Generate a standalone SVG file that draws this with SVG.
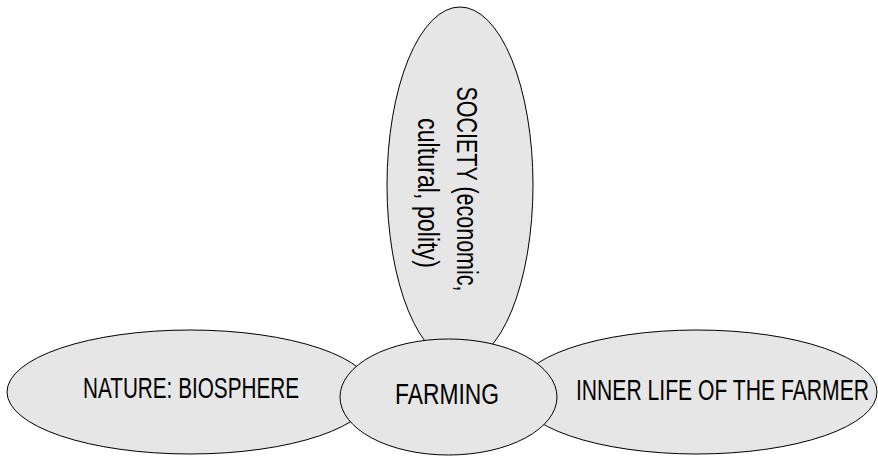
<svg xmlns="http://www.w3.org/2000/svg" width="878" height="456" viewBox="0 0 878 456">
  <style>
    .bubble { fill: #e6e6e6; stroke: #000000; stroke-width: 1; }
    .label { font-family: "Liberation Sans Narrow", "Liberation Sans", Arial, sans-serif; font-size: 30px; fill: #000000; }
  </style>
  <rect width="878" height="456" fill="#ffffff"/>

  <g id="society">
    <ellipse class="bubble" cx="460" cy="185" rx="73" ry="178"/>
    <text class="label" text-anchor="middle" transform="translate(457,189) rotate(90)" textLength="205" lengthAdjust="spacingAndGlyphs">SOCIETY (economic,</text>
    <text class="label" text-anchor="middle" transform="translate(418,193) rotate(90)" textLength="150" lengthAdjust="spacingAndGlyphs">cultural, polity)</text>
  </g>

  <g id="nature">
    <ellipse class="bubble" cx="190" cy="392" rx="183" ry="62"/>
    <text class="label" x="83" y="398" textLength="216" lengthAdjust="spacingAndGlyphs">NATURE: BIOSPHERE</text>
  </g>

  <g id="inner-life">
    <ellipse class="bubble" cx="697" cy="392" rx="180" ry="62"/>
    <text class="label" x="576" y="400" textLength="293" lengthAdjust="spacingAndGlyphs">INNER LIFE OF THE FARMER</text>
  </g>

  <g id="farming">
    <ellipse class="bubble" cx="448.5" cy="397" rx="108.5" ry="58"/>
    <text class="label" x="395" y="404" textLength="104" lengthAdjust="spacingAndGlyphs">FARMING</text>
  </g>

  <g id="connectors"/>
</svg>
